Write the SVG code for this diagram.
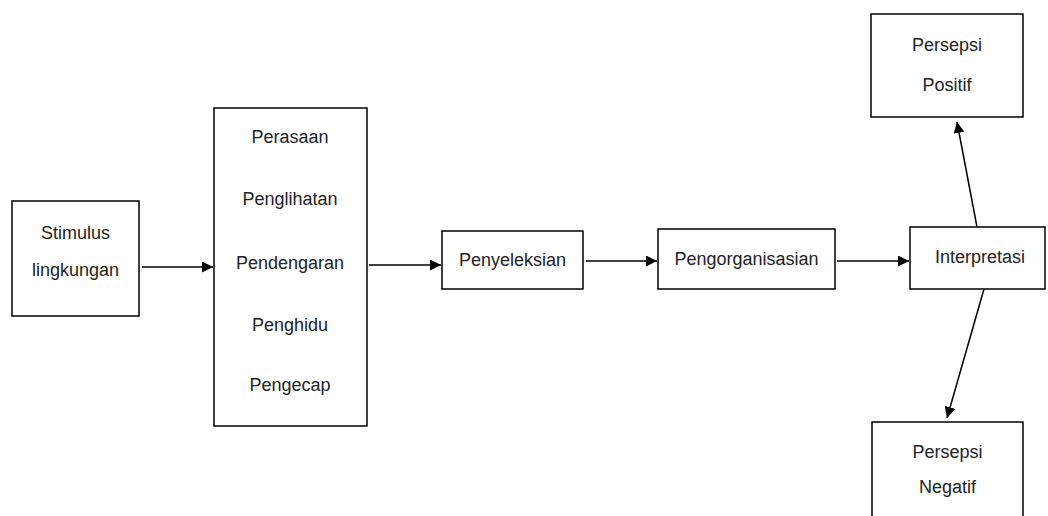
<svg xmlns="http://www.w3.org/2000/svg" width="1048" height="516" viewBox="0 0 1048 516">
<style>
.box{fill:#fff;stroke:#000;stroke-width:1.5}
.t{font-family:"Liberation Sans",Arial,sans-serif;font-size:18px;fill:#222;text-anchor:middle;dominant-baseline:central}
.c{stroke:#000;stroke-width:1.5;fill:none;marker-end:url(#ah)}
</style>
<defs>
<marker id="ah" viewBox="0 0 10 10" refX="10" refY="5" markerWidth="11" markerHeight="11" markerUnits="userSpaceOnUse" orient="auto">
<path d="M0,0 L10,5 L0,10 z" fill="#000"/>
</marker>
</defs>
<rect width="1048" height="516" fill="#fff"/>
<g id="connectors">
<line class="c" x1="142" y1="267" x2="213" y2="267"/>
<line class="c" x1="369" y1="265" x2="441" y2="265"/>
<line class="c" x1="586" y1="261" x2="657" y2="261"/>
<line class="c" x1="837" y1="261" x2="909" y2="261"/>
<line class="c" x1="977" y1="227" x2="957" y2="122"/>
<line class="c" x1="984" y1="289" x2="947" y2="418"/>
</g>
<g id="stimulus">
<rect class="box" x="12" y="201" width="127" height="115"/>
<text class="t" x="75.5" y="233">Stimulus</text>
<text class="t" x="75.5" y="270">lingkungan</text>
</g>
<g id="indera">
<rect class="box" x="214" y="108" width="153" height="318"/>
<text class="t" x="290" y="137">Perasaan</text>
<text class="t" x="290" y="199">Penglihatan</text>
<text class="t" x="290" y="263">Pendengaran</text>
<text class="t" x="290" y="325">Penghidu</text>
<text class="t" x="290" y="385">Pengecap</text>
</g>
<g id="penyeleksian">
<rect class="box" x="442" y="231" width="141" height="58"/>
<text class="t" x="512.5" y="260">Penyeleksian</text>
</g>
<g id="pengorganisasian">
<rect class="box" x="658" y="229" width="177" height="60"/>
<text class="t" x="746.5" y="259">Pengorganisasian</text>
</g>
<g id="interpretasi">
<rect class="box" x="910" y="227" width="135" height="62"/>
<text class="t" x="980" y="257">Interpretasi</text>
</g>
<g id="positif">
<rect class="box" x="871" y="14" width="152" height="103"/>
<text class="t" x="947" y="45">Persepsi</text>
<text class="t" x="947" y="85">Positif</text>
</g>
<g id="negatif">
<rect class="box" x="872" y="422" width="151" height="110"/>
<text class="t" x="947.5" y="452">Persepsi</text>
<text class="t" x="947.5" y="487">Negatif</text>
</g>
</svg>
